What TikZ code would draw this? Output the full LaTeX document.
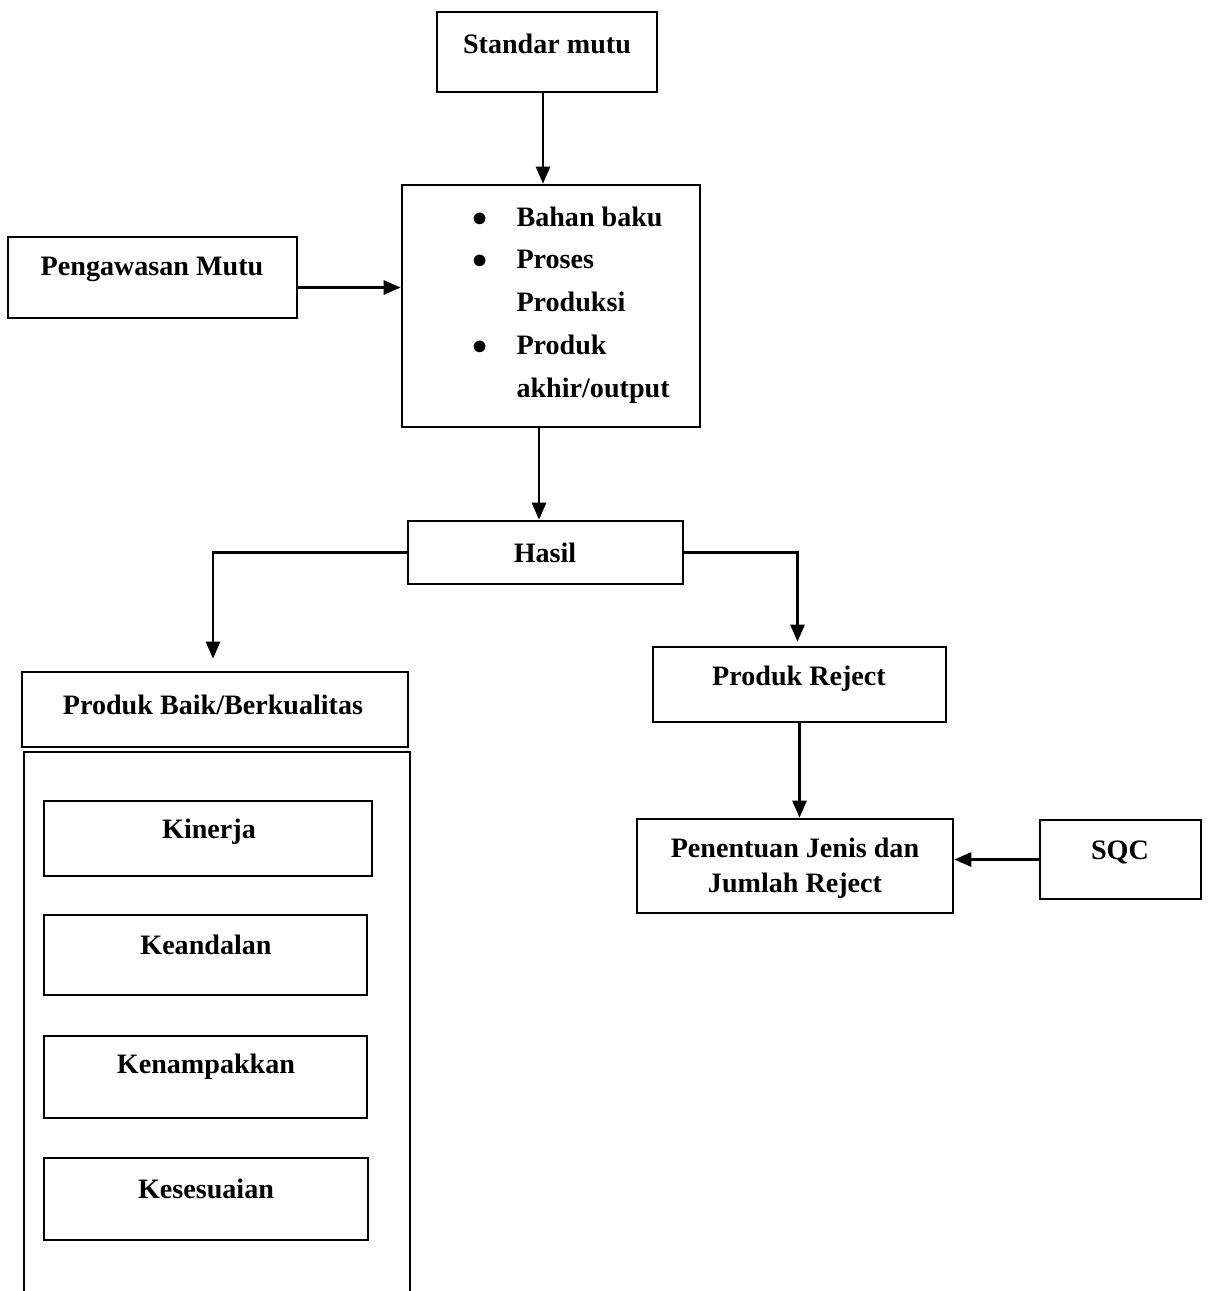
\documentclass[tikz,border=0pt]{standalone}
\usepackage{fontspec}
\setmainfont{Liberation Serif}
\usetikzlibrary{arrows.meta, positioning, calc}

\begin{document}
\begin{tikzpicture}[x=0.02cm, y=-0.02cm, >={Triangle[length=0.34cm,width=0.28cm]},
    font=\fontsize{16}{20}\selectfont\bfseries,
    box/.style={draw, line width=1.5pt, inner sep=0pt},
    line/.style={line width=1.5pt}]
    \useasboundingbox (0,0) rectangle (1207,1291);

    % boxes
    \node[box, minimum width=4.4cm, minimum height=1.6cm] (std) at (547,52) {};
    \node[box, minimum width=5.96cm, minimum height=4.84cm] (main) at (551,306) {};
    \node[box, minimum width=5.78cm, minimum height=1.62cm] (peng) at (152.5,277.5) {};
    \node[box, minimum width=5.5cm, minimum height=1.26cm] (hasil) at (545.5,552.5) {};
    \node[box, minimum width=7.72cm, minimum height=1.5cm] (baik) at (215,709.5) {};
    \node[box, minimum width=6.56cm, minimum height=1.5cm] (kin) at (208,838.5) {};
    \node[box, minimum width=6.46cm, minimum height=1.6cm] (kea) at (205.5,955) {};
    \node[box, minimum width=6.46cm, minimum height=1.64cm] (ken) at (205.5,1077) {};
    \node[box, minimum width=6.48cm, minimum height=1.64cm] (kes) at (206,1199) {};
    \node[box, minimum width=5.86cm, minimum height=1.5cm] (rej) at (799.5,684.5) {};
    \node[box, minimum width=6.32cm, minimum height=1.88cm] (pen) at (795,866) {};
    \node[box, minimum width=3.22cm, minimum height=1.58cm] (sqc) at (1120.5,859.5) {};

    % texts
    \node (std-t) at (547,44) {Standar mutu};
    \node (peng-t) at (152,269) {Pengawasan Mutu};
    \node (hasil-t) at (545,553) {Hasil};
    \node (baik-t) at (213,705) {Produk Baik/Berkualitas};
    \node (kin-t) at (209,832) {Kinerja};
    \node (kea-t) at (206,945) {Keandalan};
    \node (ken-t) at (206,1067) {Kenampakkan};
    \node (kes-t) at (206,1189) {Kesesuaian};
    \node (rej-t) at (799,679) {Produk Reject};
    \node[align=center] (pen-t) at (795,868) {Penentuan Jenis dan\\Jumlah Reject};
    \node (sqc-t) at (1120,852) {SQC};
    \node[anchor=base west, inner sep=0pt, font=\fontsize{16}{24.4}\selectfont\bfseries] (list) at (472,226)
        {\begin{tabular}[t]{@{}l@{\hspace{0.58cm}}l@{}}
            $\bullet$ & Bahan baku\\
            $\bullet$ & Proses\\
                      & Produksi\\
            $\bullet$ & Produk\\
                      & akhir/output
        \end{tabular}};

    % container of Produk Baik
    \draw[line] (24,1291) |- (410,752) -- (410,1291);

    % connectors
    \draw[line,->] ([xshift=-0.08cm]std.south) -- ([xshift=-0.08cm]std.south |- main.north);
    \draw[line,->] ([yshift=-0.2cm]peng.east) -- ([yshift=-0.2cm]peng.east -| main.west);
    \draw[line,->] ([xshift=-0.24cm]main.south) -- ([xshift=-0.24cm]main.south |- hasil.north);
    \draw[line,->] (hasil.west) -| ($(baik.north)+(-2,-12)$);
    \draw[line,->] (hasil.east) -| ($(rej.north)+(-2,-4)$);
    \draw[line,->] (rej.south) -- (rej.south |- pen.north);
    \draw[line,->] (sqc.west) -- (sqc.west -| pen.east);
\end{tikzpicture}
\end{document}
